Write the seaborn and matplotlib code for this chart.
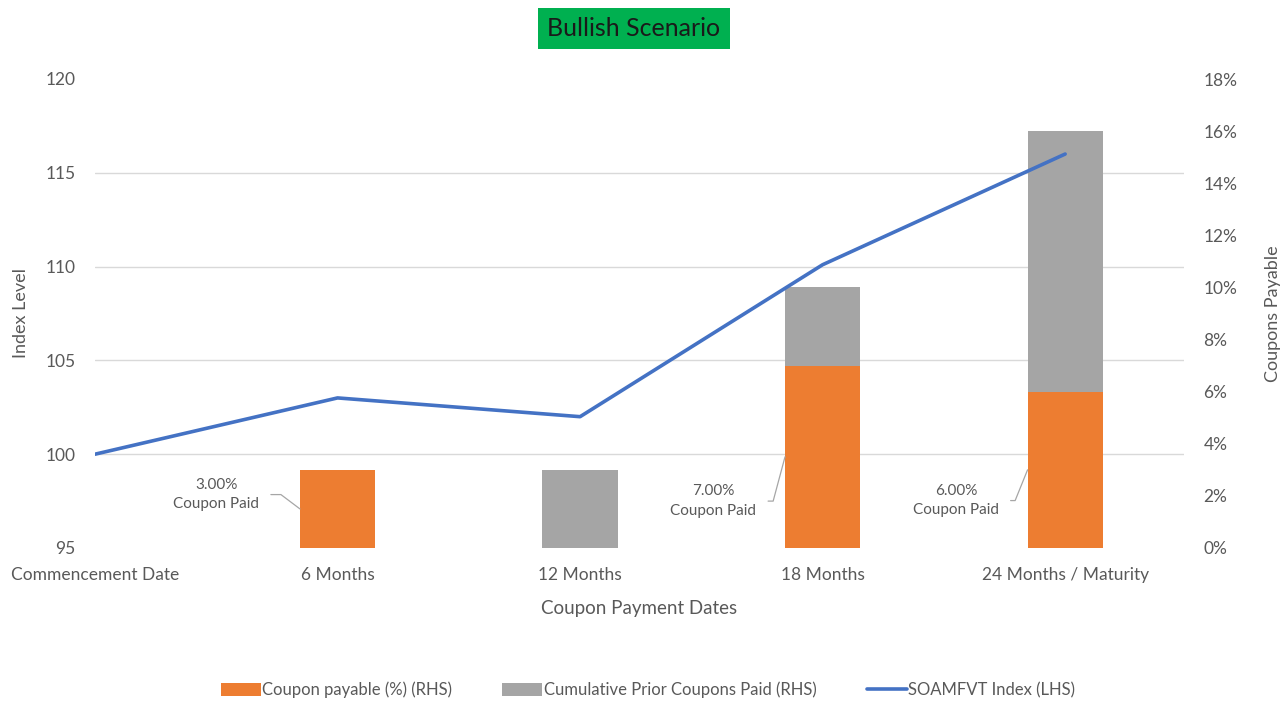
import numpy as np
import pandas as pd
import matplotlib
matplotlib.use("Agg")
import matplotlib.pyplot as plt
from matplotlib.patches import Patch
from matplotlib.lines import Line2D
from matplotlib.ticker import PercentFormatter, MultipleLocator
import seaborn as sns

# ---- data ----
categories = ["Commencement Date", "6 Months", "12 Months", "18 Months", "24 Months / Maturity"]
index_level = [100.0, 103.0, 102.0, 110.1, 116.0]
coupon_payable = [0.0, 3.0, 0.0, 7.0, 6.0]
cumulative_prior = [0.0, 0.0, 3.0, 3.0, 10.0]
paid_labels = ["3.00%", "7.00%", "6.00%"]
paid_idx = [1, 3, 4]

# label positions (category units, % units)
label_x = [0.50, 2.55, 3.55]
label_y = [2.05, 1.80, 1.82]
leader_angle = [143, 75, 68]

ORANGE = "#ED7D31"
GRAY = "#A5A5A5"
BLUE = "#4472C4"
TXT = "#595959"
GRID = "#D9D9D9"

sns.set_theme(style="white")
plt.rcParams["font.family"] = ["Lato", "DejaVu Sans"]

df = pd.DataFrame({
    "pos": np.arange(len(categories)),
    "cat": categories,
    "index": index_level,
    "coupon": coupon_payable,
    "total": np.array(coupon_payable) + np.array(cumulative_prior),
})

fig = plt.figure(figsize=(12.83, 7.04), dpi=100)
ax = fig.add_axes([95 / 1283, 1 - 548 / 704, (1184 - 95) / 1283, (548 - 79) / 704])
ax2 = ax.twinx()

# bars on right axis
bw = 0.31
sns.barplot(data=df, x="pos", y="total", ax=ax2, native_scale=True, width=bw,
            color=GRAY, saturation=1, edgecolor="none", errorbar=None, zorder=3)
sns.barplot(data=df, x="pos", y="coupon", ax=ax2, native_scale=True, width=bw,
            color=ORANGE, saturation=1, edgecolor="none", errorbar=None, zorder=3)

# line on left axis
sns.lineplot(data=df, x="pos", y="index", ax=ax, color=BLUE, lw=2.6, zorder=5)

ax.set_zorder(ax2.get_zorder() + 1)
ax.patch.set_visible(False)

ax.set_ylim(95, 120)
ax.set_yticks(np.arange(95, 121, 5))
ax2.set_ylim(0, 18)
ax2.yaxis.set_major_locator(MultipleLocator(2))
ax2.yaxis.set_major_formatter(PercentFormatter(decimals=0))
# gridlines aligned to the left axis ticks, drawn behind bars
ax2.yaxis.set_minor_locator(MultipleLocator(18 / 5))
ax2.grid(which="minor", axis="y", color=GRID, lw=1.0, zorder=0)
ax2.grid(which="major", visible=False)
ax2.set_axisbelow(True)
ax.grid(False)

ax.set_xlim(0, 4.49)
ax.set_xticks(df["pos"], labels=categories)

for a in (ax, ax2):
    for s in a.spines.values():
        s.set_visible(False)
    a.tick_params(axis="both", which="both", length=0, labelsize=12.5, colors=TXT)

ax.tick_params(axis="x", pad=14)
ax.tick_params(axis="y", pad=14)
ax2.tick_params(axis="y", pad=14)

ax.set_xlabel("Coupon Payment Dates", fontsize=13.5, color=TXT, labelpad=12)
ax.set_ylabel("Index Level", fontsize=13, color=TXT, labelpad=12)
ax2.set_ylabel("Coupons Payable", fontsize=13, color=TXT, labelpad=20, rotation=90)

# annotations
for lab, i, lx, ly, ang in zip(paid_labels, paid_idx, label_x, label_y, leader_angle):
    ax2.annotate(f"{lab}\nCoupon Paid", xy=(df["pos"][i] - bw / 2, coupon_payable[i] / 2),
                 xytext=(lx, ly), textcoords="data", ha="center", va="center",
                 fontsize=11, color=TXT, linespacing=1.5,
                 arrowprops=dict(arrowstyle="-", color="#A6A6A6", lw=0.9,
                                 relpos=(1.0, 0.5), shrinkA=6, shrinkB=0,
                                 connectionstyle=f"angle,angleA=0,angleB={ang},rad=0"),
                 zorder=6)

# title box
fig.text(634 / 1283, 1 - 28 / 704, "Bullish Scenario", ha="center", va="center",
         fontsize=18, color="#1a1a1a",
         bbox=dict(boxstyle="square,pad=0.36", fc="#00B050", ec="none"))

handles = [Patch(facecolor=ORANGE, edgecolor="none"),
           Patch(facecolor=GRAY, edgecolor="none"),
           Line2D([0], [0], color=BLUE, lw=2.6)]
labels = ["Coupon payable (%) (RHS)", "Cumulative Prior Coupons Paid (RHS)", "SOAMFVT Index (LHS)"]
leg = fig.legend(handles, labels, loc="center", bbox_to_anchor=(0.505, 1 - 690 / 704),
                 ncol=3, frameon=False, fontsize=12, handlelength=2.4, handleheight=0.9,
                 handletextpad=0.1, columnspacing=3.0)
for t in leg.get_texts():
    t.set_color(TXT)

fig.savefig("out.png", dpi=100, facecolor="white")
